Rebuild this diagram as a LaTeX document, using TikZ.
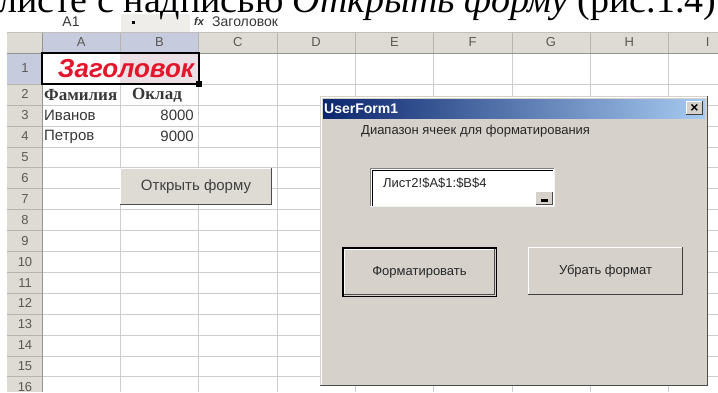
\documentclass[tikz,border=0pt]{standalone}
\usepackage{fontspec}
\setmainfont{Liberation Serif}
\setsansfont{Liberation Sans}
\usepackage{tikz}
\definecolor{GridGrey}{RGB}{205,205,205}
\definecolor{HeadGrey}{RGB}{222,219,212}
\definecolor{HeadLine}{RGB}{150,148,142}
\definecolor{HeadBlue}{RGB}{198,203,222}
\definecolor{FormGrey}{RGB}{214,210,203}
\definecolor{TitleDark}{RGB}{12,38,110}
\definecolor{TitleLight}{RGB}{166,202,240}
\definecolor{CellRed}{RGB}{228,22,44}
\definecolor{SelPink}{RGB}{234,224,230}
\definecolor{TextGrey}{RGB}{55,55,55}

\begin{document}
\begin{tikzpicture}[x=1pt,y=-1pt,
  head/.style={font=\sffamily\fontsize{13}{13}\selectfont, text=HeadLine!60!black},
  cell/.style={font=\sffamily\fontsize{15}{15}\selectfont, text=TextGrey, inner sep=0pt},
  formtext/.style={font=\sffamily\fontsize{13}{13}\selectfont, text=black!85, inner sep=0pt}]
\clip (0,0) rectangle (718,392);
\fill[white] (0,0) rectangle (718,392);

% Formula bar
\fill[HeadGrey!50] (121,14) rectangle (190,32);
\node[font=\sffamily\fontsize{14}{14}\selectfont, text=TextGrey] (namebox) at (71,22) {A1};
\fill[black] (132,20.5) rectangle (135,23.5);
\node[font=\sffamily\bfseries\itshape\fontsize{11}{11}\selectfont, text=TextGrey] (fx) at (199,22) {fx};
\node[anchor=west, inner sep=0pt, font=\sffamily\fontsize{14}{14}\selectfont, text=TextGrey] (formula) at (212,22) {Заголовок};

% Caption line, cut at the top
\node[anchor=base west, inner sep=0pt, font=\fontsize{38}{42}\selectfont] (caption) at (-2,12) {листе с надписью \textit{Открыть форму} (рис.1.4).};

% Headers
\fill[HeadGrey] (7,32) rectangle (718,53);
\fill[HeadGrey] (7,53) rectangle (42,392);
\fill[HeadBlue] (42,32) rectangle (198.6,53);
\fill[HeadBlue] (7,53) rectangle (42,84);
\foreach \c [count=\k from 0] in {A,...,I}
  \node[head] (col-\c) at ({42+\k*78.3+39.15},42.5) {\c};
\node[head] (row-1) at (25,68.5) {1};
\foreach \r in {2,...,16}
  \node[head] (row-\r) at (25,{84+(\r-2)*20.9+10.45}) {\r};

% Grid
\foreach \k in {0,...,14}
  \draw[GridGrey] (42,{84+\k*20.9}) -- (718,{84+\k*20.9});
\foreach \k in {1,...,8}
  \draw[GridGrey] ({42+\k*78.3},53) -- ({42+\k*78.3},392);
\foreach \k in {0,...,14}
  \draw[HeadLine!70] (7,{84+\k*20.9}) -- (42,{84+\k*20.9});
\foreach \k in {0,...,8}
  \draw[HeadLine!70] ({42+\k*78.3},32) -- ({42+\k*78.3},53);
\draw[HeadLine] (7,53) -- (718,53);
\draw[HeadLine] (42,32) -- (42,392);
\draw[HeadLine!60] (7,32) -- (718,32);

% Title cell A1:B1
\fill[SelPink] (120.3,53) rectangle (198.6,84);
\node[font=\sffamily\bfseries\itshape\fontsize{26}{26}\selectfont, text=CellRed] (title) at (126,69) {Заголовок};
\draw[line width=2pt] (42,53) rectangle (199,84);
\fill (196,81) rectangle (202,87);

% Data
\node[cell, anchor=west, font=\bfseries\rmfamily\fontsize{17}{17}\selectfont] (name) at (44,94.9) {Фамилия};
\node[cell, anchor=west, font=\bfseries\rmfamily\fontsize{17}{17}\selectfont] (pay) at (132,94.9) {Оклад};
\node[cell, anchor=west] (ivanov) at (44,115.8) {Иванов};
\node[cell, anchor=east] (ivanov-pay) at (194,115.8) {8000};
\node[cell, anchor=west] (petrov) at (44,136.7) {Петров};
\node[cell, anchor=east] (petrov-pay) at (194,136.7) {9000};

% Button on the sheet
\fill[FormGrey!80!white] (120,168) rectangle (272,205);
\draw[white] (120.5,204) -- (120.5,168.5) -- (271,168.5);
\draw[gray!60!black, line width=1.5pt] (120,204.5) -- (271.5,204.5) -- (271.5,168);
\node[cell, text=black!75] (open) at (196,187) {Открыть форму};

% UserForm
\fill[FormGrey] (320,96) rectangle (708,386);
\draw[white] (321,386) -- (321,97) -- (707,97);
\draw[gray!60!black, line width=1.5pt] (320,385.5) -- (707.5,385.5) -- (707.5,96);
\shade[left color=TitleDark, right color=TitleLight] (323,99) rectangle (705,118);
\node[anchor=west, inner sep=0pt, font=\sffamily\bfseries\fontsize{14}{14}\selectfont, text=white] (caption-bar) at (324,108.5) {UserForm1};
\fill[FormGrey] (686,101) rectangle (703,115);
\draw[white] (686.5,115) -- (686.5,101.5) -- (703,101.5);
\draw[gray!50!black] (686,114.5) -- (702.5,114.5) -- (702.5,101);
\node[font=\sffamily\bfseries\fontsize{14}{14}\selectfont] (close) at (694.5,108) {×};
\node[formtext, anchor=west] (range-label) at (361,131) {Диапазон ячеек для форматирования};

% Range box
\fill[white] (370,168) rectangle (555,207);
\draw[gray] (370.5,207) -- (370.5,168.5) -- (555,168.5);
\draw[black] (372,206) -- (372,170) -- (553,170);
\draw[white!90!gray] (370,206.5) -- (554.5,206.5) -- (554.5,168);
\node[formtext, anchor=west] (range) at (383,183) {Лист2!\$A\$1:\$B\$4};
\fill[FormGrey] (536,192) rectangle (553,205);
\draw[gray!60!black] (536,204.5) -- (552.5,204.5) -- (552.5,192);
\fill[black] (541,199) rectangle (548,202);

% Buttons
\fill[FormGrey] (342,247) rectangle (497,297);
\draw[white] (344.5,294) -- (344.5,249.5) -- (494,249.5);
\draw[gray!60!black] (344,294.5) -- (494.5,294.5) -- (494.5,249);
\draw[black, line width=1.5pt] (342.75,247.75) rectangle (496.25,296.25);
\node[formtext] (format) at (419.5,272) {Форматировать};
\fill[FormGrey] (528,247) rectangle (683,295);
\draw[white] (528.5,295) -- (528.5,247.5) -- (683,247.5);
\draw[gray!50!black, line width=1.5pt] (528,294.25) -- (682.25,294.25) -- (682.25,247);
\node[formtext] (unformat) at (605.5,271) {Убрать формат};
\end{tikzpicture}
\end{document}
